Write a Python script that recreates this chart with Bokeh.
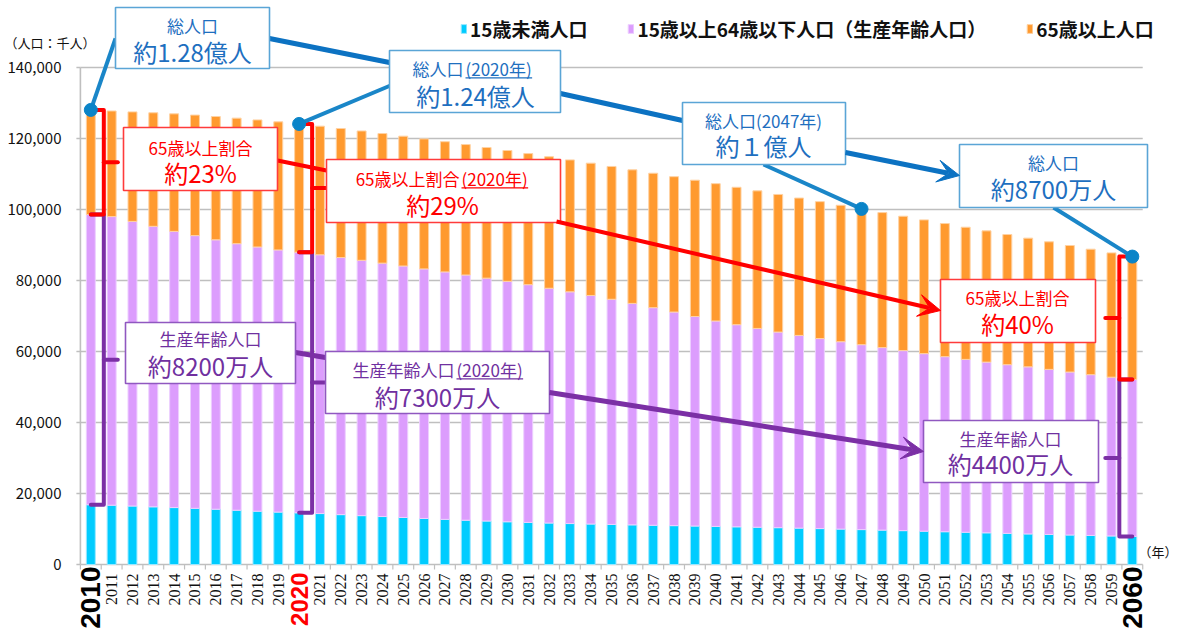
import numpy as np
from bokeh.plotting import figure
from bokeh.models import ColumnDataSource, Range1d, Legend, LegendItem, Arrow, VeeHead
from bokeh.core.properties import value
from bokeh.embed import file_html
from bokeh.resources import INLINE

# ---------------- data (thousands of people) ----------------
years = list(range(2010, 2061))
under15 = [16839, 16705, 16473, 16254, 16038, 15827, 15574, 15294, 15014, 14765,
           14568, 14349, 14052, 13766, 13508, 13240, 12968, 12712, 12479, 12251,
           12039, 11849, 11683, 11536, 11406, 11287, 11169, 11056, 10947, 10840,
           10732, 10618, 10499, 10377, 10249, 10116, 9978, 9836, 9689, 9539,
           9387, 9236, 9083, 8927, 8771, 8614, 8463, 8318, 8179, 8043, 7912]
working = [81735, 81303, 80175, 79010, 77803, 76818, 75883, 75078, 74431, 73846,
           73408, 72895, 72421, 71926, 71385, 70845, 70303, 69710, 69074, 68414,
           67730, 66972, 66138, 65271, 64380, 63430, 62380, 61293, 60167, 59015,
           57866, 56932, 55998, 55101, 54284, 53531, 52780, 52090, 51415, 50709,
           50013, 49318, 48700, 48083, 47515, 47063, 46498, 45899, 45297, 44725, 44183]
over65 = [29483, 29745, 30850, 31983, 33108, 33952, 34736, 35367, 35791, 36078,
          36124, 36230, 36340, 36430, 36510, 36574, 36620, 36680, 36740, 36800,
          36849, 36931, 37049, 37163, 37268, 37407, 37630, 37870, 38130, 38400,
          38678, 38713, 38754, 38759, 38689, 38563, 38433, 38239, 38027, 37858,
          37676, 37491, 37229, 36971, 36667, 36256, 35937, 35641, 35342, 35010, 34642]
series_labels = ["15歳未満人口", "15歳以上64歳以下人口（生産年齢人口）", "65歳以上人口"]
y_ticks = [0, 20000, 40000, 60000, 80000, 100000, 120000, 140000]
y_tick_labels = ["0", "20,000", "40,000", "60,000", "80,000", "100,000", "120,000", "140,000"]
x_tick_labels = [str(y) for y in years]
big_years = [2010, 2060]
red_year = 2020
callout_years = [2010, 2020, 2047, 2060]
bracket_left_years = [2010, 2020]
bracket_right_years = [2060]

# ---------------- styling / layout ----------------
C_CYAN, C_LILAC, C_ORANGE = "#00CCFF", "#DC9DFD", "#FF9A2F"
BLUE_T, BLUE_B, BLUE_L, BLUE_L2 = "#1E6FBF", "#5AA5D6", "#0C72C2", "#1A86C8"
RED_T, RED_B, RED_L = "#FF0000", "#FF3B3B", "#FF0000"
PUR_T, PUR_B, PUR_L = "#7030A0", "#9058C0", "#7B2FA5"
JP = "Noto Sans CJK JP"
NUMF = "Liberation Sans Narrow"
BIGF = "Liberation Sans"

W, H = 1178, 630
OX, OY = 0, 0
X0PX, PXW = 79.9, 20.83
Y0PX, PXV = 564.0, 497.0 / 140000


def X(px):
    return years[0] - 0.5 + (px - X0PX) / PXW


def Y(py):
    return (Y0PX - py) / PXV


def DX(d):
    return d / PXW


def DY(d):
    return d / PXV


totals = [a + b + c for a, b, c in zip(under15, working, over65)]
lower2 = [a + b for a, b in zip(under15, working)]

p = figure(width=W, height=H, x_range=Range1d(X(OX), X(OX + W)),
           y_range=Range1d(Y(OY + H), Y(OY)), output_backend="svg",
           toolbar_location=None, title=None, min_border=0,
           x_axis_type=None, y_axis_type=None)
p.outline_line_color = None
p.background_fill_color = "white"
p.border_fill_color = "white"

xl, xr = years[0] - 0.5, years[-1] + 0.5
GRID = "#BFBFBF"
# gridlines
gy = [t for t in y_ticks if t > 0]
p.segment(x0=[xl] * len(gy), x1=[xr] * len(gy), y0=gy, y1=gy, line_color=GRID, line_width=1.6)
# axes lines and ticks
p.segment(x0=[xl], x1=[xl], y0=[0], y1=[y_ticks[-1]], line_color=GRID, line_width=1.6)
p.segment(x0=[xl], x1=[xr], y0=[0], y1=[0], line_color=GRID, line_width=1.6)
p.segment(x0=[xl - DX(4)] * len(y_ticks), x1=[xl] * len(y_ticks), y0=y_ticks, y1=y_ticks,
          line_color=GRID, line_width=1.6)
bx = [y - 0.5 for y in years] + [xr]
p.segment(x0=bx, x1=bx, y0=[0] * len(bx), y1=[-DY(5)] * len(bx), line_color=GRID, line_width=1.2)

# y tick labels
p.text(x=[X(61)] * len(y_ticks), y=y_ticks, text=y_tick_labels, text_align="right",
       text_baseline="middle", text_font=value(JP), text_font_size="15px", text_color="#111111")

# bars
src = ColumnDataSource(dict(year=years, under15=under15, working=working, over65=over65))
rs = p.vbar_stack(["under15", "working", "over65"], x="year", width=0.43, source=src,
                  fill_color=[C_CYAN, C_LILAC, C_ORANGE],
                  line_color=["#9BE8FF", "#EDCFFF", "#FFD2A3"], line_width=1)

legend = Legend(items=[LegendItem(label=l, renderers=[r]) for l, r in zip(series_labels, rs)],
                orientation="horizontal", location=(460, 588), glyph_width=7, glyph_height=11,
                label_standoff=3, spacing=40, padding=0, margin=0, border_line_color=None,
                background_fill_alpha=0, label_text_font=JP, label_text_font_size="19px",
                label_text_font_style="bold", label_text_color="#111111")
p.add_layout(legend)

# x tick labels
small = [(y, t) for y, t in zip(years, x_tick_labels) if y not in big_years and y != red_year]
p.text(x=[s[0] for s in small], y=[Y(573)] * len(small), text=[s[1] for s in small],
       angle=np.pi / 2, text_align="right", text_baseline="middle",
       text_font=value(NUMF), text_font_size="16px", text_color="#111111")
p.text(x=big_years, y=[Y(566)] * len(big_years), text=[x_tick_labels[years.index(y)] for y in big_years],
       angle=np.pi / 2, text_align="right", text_baseline="middle", text_font=value(BIGF),
       text_font_size="28px", text_font_style="bold", text_color="#000000")
p.text(x=[red_year], y=[Y(572)], text=[x_tick_labels[years.index(red_year)]],
       angle=np.pi / 2, text_align="right", text_baseline="middle", text_font=value(BIGF),
       text_font_size="24px", text_font_style="bold", text_color="#FF0000")

# unit labels
p.text(x=[X(4)], y=[Y(42)], text=["（人口：千人）"], text_align="left", text_baseline="middle",
       text_font=value(JP), text_font_size="13px", text_color="#111111")
p.text(x=[X(1138)], y=[Y(551)], text=["（年）"], text_align="left", text_baseline="middle",
       text_font=value(JP), text_font_size="13px", text_color="#111111")


# brackets
def bracket(year, ytop, ybot, side, color):
    i = years.index(year)
    xc = years[i]
    xv = xc + side * DX(13)
    p.line([xc, xv, xv, xc], [ytop, ytop, ybot, ybot], line_color=color, line_width=4,
           line_join="round", line_cap="round")
    mid = (ytop + ybot) / 2
    p.line([xv, xc + side * DX(27)], [mid, mid], line_color=color, line_width=4, line_cap="round")


for yr in bracket_left_years:
    i = years.index(yr)
    bracket(yr, lower2[i], under15[i], 1, PUR_L)
    bracket(yr, totals[i], lower2[i], 1, RED_L)
for yr in bracket_right_years:
    i = years.index(yr)
    bracket(yr, lower2[i], under15[i], -1, PUR_L)
    bracket(yr, totals[i], lower2[i], -1, RED_L)


def seg(p0, p1, color, w):
    p.line([X(p0[0]), X(p1[0])], [Y(p0[1]), Y(p1[1])], line_color=color, line_width=w, line_cap="round")


# connectors from boxes to dots
dot_targets = [(115, 38), (390, 85), (763, 164), (1053, 207)]
for yr, (sx, sy) in zip(callout_years, dot_targets):
    i = years.index(yr)
    p.line([X(sx), yr], [Y(sy), totals[i]], line_color=BLUE_L2, line_width=4)

# chain lines between boxes
seg((269, 38), (389, 62), BLUE_L, 5)
seg((560, 93), (682, 120), BLUE_L, 5)
seg((277, 160), (326, 170), RED_L, 4)
seg((295, 352), (325, 357), PUR_L, 5)

# boxes: (left, right, top, bottom, border)
boxes = [
    (115, 269, 7, 68, BLUE_B), (389, 560, 50, 112, BLUE_B), (682, 845, 102, 164, BLUE_B),
    (959, 1147, 144, 207, BLUE_B),
    (123, 277, 127, 190, RED_B), (326, 560, 159, 222, RED_B), (940, 1095, 279, 342, RED_B),
    (125, 295, 322, 383, PUR_B), (325, 549, 351, 413, PUR_B), (923, 1098, 420, 482, PUR_B),
]
p.quad(left=[X(b[0]) for b in boxes], right=[X(b[1]) for b in boxes],
       top=[Y(b[2]) for b in boxes], bottom=[Y(b[3]) for b in boxes],
       fill_color="white", line_color=[b[4] for b in boxes], line_width=1.6)


def txt(px, py, s, size, color, align="center"):
    p.text(x=[X(px)], y=[Y(py)], text=[s], text_align=align, text_baseline="middle",
           text_font=value(JP), text_font_size=f"{size}px", text_color=color)


def split_title(split_px, py, left, right, size, color):
    txt(split_px - 1, py, left, size, color, "right")
    txt(split_px + 1, py, right, size, color, "left")
    wpx = size * 3.92
    p.line([X(split_px + 1), X(split_px + 1 + wpx)], [Y(py + size * 0.55)] * 2,
           line_color=color, line_width=1.2)


# blue texts
txt(192, 25, "総人口", 17, BLUE_T)
txt(192, 51, "約1.28億人", 24, BLUE_T)
split_title(464, 68, "総人口", "(2020年)", 17, BLUE_T)
txt(475, 95, "約1.24億人", 24, BLUE_T)
txt(763, 120, "総人口(2047年)", 17, BLUE_T)
txt(763, 145, "約１億人", 24, BLUE_T)
txt(1053, 162, "総人口", 17, BLUE_T)
txt(1053, 188, "約8700万人", 24, BLUE_T)
# red texts
txt(200, 147, "65歳以上割合", 17, RED_T)
txt(200, 172, "約23%", 24, RED_T)
split_title(460, 178, "65歳以上割合", "(2020年)", 17, RED_T)
txt(442, 204, "約29%", 24, RED_T)
txt(1017, 297, "65歳以上割合", 17, RED_T)
txt(1017, 323, "約40%", 24, RED_T)
# purple texts
txt(210, 338, "生産年齢人口", 17, PUR_T)
txt(210, 365, "約8200万人", 24, PUR_T)
split_title(455, 369, "生産年齢人口", "(2020年)", 17, PUR_T)
txt(437, 396, "約7300万人", 24, PUR_T)
txt(1010, 438, "生産年齢人口", 17, PUR_T)
txt(1010, 463, "約4400万人", 24, PUR_T)

# dots
p.scatter(x=callout_years, y=[totals[years.index(y)] for y in callout_years], size=13,
          fill_color="#0A84C8", line_color="#0A84C8")

# arrows
for (s, e, c, w) in [((845, 152), (959, 175), BLUE_L, 5), ((556, 221), (940, 310), RED_L, 4),
                     ((549, 392), (923, 451), PUR_L, 5)]:
    p.add_layout(Arrow(end=VeeHead(size=22, fill_color=c, line_color=c, line_width=1),
                       x_start=X(s[0]), y_start=Y(s[1]), x_end=X(e[0]), y_end=Y(e[1]),
                       line_color=c, line_width=w))

open("out.html", "w").write(file_html(p, INLINE))
